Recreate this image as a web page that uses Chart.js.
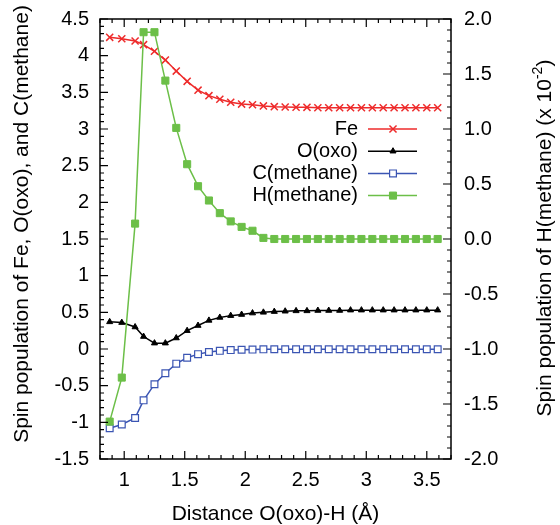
<!DOCTYPE html>
<html>
<head>
<meta charset="utf-8">
<script src="https://cdn.jsdelivr.net/npm/chart.js@4.4.0/dist/chart.umd.min.js"></script>
<style>
  html, body { margin: 0; padding: 0; background: #fff; }
  #wrap { width: 560px; height: 525px; }
</style>
</head>
<body>
<div id="wrap"><canvas id="spinChart" width="560" height="525"></canvas></div>
<script>
// O(oxo)-H distance (Å)
const distance = [0.88, 0.98, 1.09, 1.16, 1.25, 1.34, 1.43, 1.52, 1.61, 1.70,
  1.79, 1.88, 1.97, 2.06, 2.15, 2.24, 2.33, 2.42, 2.51, 2.60,
  2.69, 2.78, 2.87, 2.96, 3.05, 3.14, 3.23, 3.32, 3.41, 3.50, 3.59];

// spin populations, left axis
const fe = [4.25, 4.23, 4.20, 4.15, 4.06, 3.94, 3.79, 3.65, 3.53, 3.455,
  3.405, 3.365, 3.34, 3.33, 3.315, 3.305, 3.30, 3.297, 3.295, 3.29,
  3.29, 3.29, 3.29, 3.29, 3.29, 3.29, 3.29, 3.29, 3.29, 3.29, 3.29];
const oxo = [0.37, 0.36, 0.30, 0.17, 0.08, 0.08, 0.15, 0.25, 0.32, 0.39,
  0.43, 0.455, 0.47, 0.49, 0.50, 0.51, 0.515, 0.52, 0.52, 0.525,
  0.525, 0.525, 0.53, 0.53, 0.53, 0.53, 0.53, 0.53, 0.53, 0.53, 0.53];
const cMethane = [-1.08, -1.03, -0.94, -0.70, -0.48, -0.33, -0.20, -0.12, -0.07, -0.04,
  -0.025, -0.015, -0.01, -0.008, -0.005, -0.003, -0.003, -0.003, -0.003, -0.003,
  -0.003, -0.003, -0.003, -0.003, -0.003, -0.003, -0.003, -0.003, -0.003, -0.003, -0.003];

// spin population of H(methane), right axis (x 10^-2)
const hMethane = [-1.66, -1.26, 0.14, 1.88, 1.88, 1.44, 1.01, 0.68, 0.48, 0.35,
  0.235, 0.16, 0.11, 0.075, 0.01, 0.0, 0.0, 0.0, 0.0, 0.0,
  0.0, 0.0, 0.0, 0.0, 0.0, 0.0, 0.0, 0.0, 0.0, 0.0, 0.0];

// tick labels
const xTicks = [1, 1.5, 2, 2.5, 3, 3.5];
const yLeftTicks = [-1.5, -1, -0.5, 0, 0.5, 1, 1.5, 2, 2.5, 3, 3.5, 4, 4.5];
const yRightTicks = [-2, -1.5, -1, -0.5, 0, 0.5, 1, 1.5, 2];

const FONT = '"Liberation Sans", Arial, Helvetica, sans-serif';
Chart.defaults.font.family = FONT;
Chart.defaults.font.size = 20;
Chart.defaults.color = '#000';

function toPoints(ys) {
  return distance.map((x, i) => ({ x: x, y: ys[i] }));
}

function setTicks(list) {
  return (axis) => { axis.ticks = list.map(v => ({ value: v })); };
}

// draw one legend marker like the dataset's points
function drawMarker(ctx, ds, x, y) {
  const r = ds.pointRadius;
  ctx.save();
  ctx.strokeStyle = ds.borderColor;
  ctx.fillStyle = ds.pointBackgroundColor;
  ctx.lineWidth = ds.pointBorderWidth;
  ctx.beginPath();
  if (ds.pointStyle === 'crossRot') {
    const o = r * Math.SQRT1_2;
    ctx.moveTo(x - o, y - o); ctx.lineTo(x + o, y + o);
    ctx.moveTo(x - o, y + o); ctx.lineTo(x + o, y - o);
    ctx.stroke();
  } else if (ds.pointStyle === 'triangle') {
    ctx.moveTo(x, y - r);
    ctx.lineTo(x + r * 0.866, y + r * 0.5);
    ctx.lineTo(x - r * 0.866, y + r * 0.5);
    ctx.closePath();
    ctx.fill(); ctx.stroke();
  } else {
    const s = r * Math.SQRT1_2;
    ctx.rect(x - s, y - s, 2 * s, 2 * s);
    ctx.fill(); ctx.stroke();
  }
  ctx.restore();
}

const framePlugin = {
  id: 'frame',
  afterDraw(chart) {
    const { ctx, chartArea: a, scales } = chart;
    ctx.save();
    ctx.strokeStyle = '#000';
    ctx.lineWidth = 1.5;
    ctx.strokeRect(a.left, a.top, a.right - a.left, a.bottom - a.top);

    // inward major / minor ticks
    ctx.lineWidth = 1.2;
    ctx.beginPath();
    for (let k = 8; k <= 37; k++) {
      const px = scales.x.getPixelForValue(k / 10);
      const len = k % 5 === 0 ? 8 : 4;
      ctx.moveTo(px, a.bottom); ctx.lineTo(px, a.bottom - len);
      ctx.moveTo(px, a.top); ctx.lineTo(px, a.top + len);
    }
    for (let k = -15; k <= 45; k++) {
      const py = scales.y.getPixelForValue(k / 10);
      const len = k % 5 === 0 ? 8 : 4;
      ctx.moveTo(a.left, py); ctx.lineTo(a.left + len, py);
    }
    for (let k = -20; k <= 20; k++) {
      const py = scales.y2.getPixelForValue(k / 10);
      const len = k % 5 === 0 ? 8 : 4;
      ctx.moveTo(a.right, py); ctx.lineTo(a.right - len, py);
    }
    ctx.stroke();

    // vertical axis titles
    ctx.fillStyle = '#000';
    ctx.textBaseline = 'middle';
    ctx.font = '21px ' + FONT;
    ctx.save();
    ctx.translate(22, 224);
    ctx.rotate(-Math.PI / 2);
    ctx.textAlign = 'center';
    ctx.fillText('Spin population of Fe, O(oxo), and C(methane)', 0, 0);
    ctx.restore();

    const t1 = 'Spin population of H(methane) (x 10', t2 = '-2', t3 = ')';
    ctx.font = '21px ' + FONT;
    const w1 = ctx.measureText(t1).width, w3 = ctx.measureText(t3).width;
    ctx.font = '14px ' + FONT;
    const w2 = ctx.measureText(t2).width;
    ctx.save();
    ctx.translate(545, 238);
    ctx.rotate(-Math.PI / 2);
    ctx.textAlign = 'left';
    let sx = -(w1 + w2 + w3) / 2;
    ctx.font = '21px ' + FONT;
    ctx.fillText(t1, sx, 0);
    sx += w1;
    ctx.font = '14px ' + FONT;
    ctx.fillText(t2, sx, -7);
    sx += w2;
    ctx.font = '21px ' + FONT;
    ctx.fillText(t3, sx, 0);
    ctx.restore();

    // legend: label right-aligned, then line sample with marker
    ctx.font = '20px ' + FONT;
    ctx.textAlign = 'right';
    chart.data.datasets.forEach((ds, i) => {
      const y = a.top + 110 + i * 22.2;
      const tx = a.left + 258;
      ctx.fillStyle = '#000';
      ctx.fillText(ds.label, tx, y);
      ctx.strokeStyle = ds.borderColor;
      ctx.lineWidth = ds.borderWidth;
      ctx.beginPath();
      ctx.moveTo(tx + 10, y); ctx.lineTo(tx + 59, y);
      ctx.stroke();
      drawMarker(ctx, ds, tx + 35, y);
    });
    ctx.restore();
  }
};

new Chart(document.getElementById('spinChart'), {
  type: 'line',
  data: {
    datasets: [
      {
        label: 'Fe', data: toPoints(fe), yAxisID: 'y', order: 3,
        borderColor: '#ee2b2b', borderWidth: 1.5,
        pointStyle: 'crossRot', pointRadius: 5, pointBorderWidth: 1.5,
        pointBackgroundColor: '#ee2b2b'
      },
      {
        label: 'O(oxo)', data: toPoints(oxo), yAxisID: 'y', order: 2,
        borderColor: '#000000', borderWidth: 1.5,
        pointStyle: 'triangle', pointRadius: 3.5, pointBorderWidth: 1,
        pointBackgroundColor: '#000000'
      },
      {
        label: 'C(methane)', data: toPoints(cMethane), yAxisID: 'y', order: 1,
        borderColor: '#3b55b3', borderWidth: 1.5,
        pointStyle: 'rect', pointRadius: 4.8, pointBorderWidth: 1.2,
        pointBackgroundColor: '#ffffff'
      },
      {
        label: 'H(methane)', data: toPoints(hMethane), yAxisID: 'y2', order: 0,
        borderColor: '#6cbf48', borderWidth: 1.5,
        pointStyle: 'rect', pointRadius: 5, pointBorderWidth: 1,
        pointBackgroundColor: '#6cbf48'
      }
    ]
  },
  options: {
    responsive: false,
    animation: false,
    layout: { padding: { top: 19, left: 0, right: 0, bottom: 0 } },
    plugins: {
      legend: { display: false },
      tooltip: { enabled: false }
    },
    elements: { line: { tension: 0 } },
    scales: {
      x: {
        type: 'linear', min: 0.8, max: 3.7,
        grid: { display: false }, border: { display: false },
        afterBuildTicks: setTicks(xTicks),
        afterFit: (s) => { s.height = 66; },
        ticks: { padding: 1, font: { size: 20 }, callback: (v) => String(v) },
        title: {
          display: true, text: 'Distance O(oxo)-H (Å)',
          font: { size: 21, lineHeight: 1.0 }, padding: { top: 0, bottom: 0 }
        }
      },
      y: {
        type: 'linear', position: 'left', min: -1.5, max: 4.5,
        grid: { display: false }, border: { display: false },
        afterBuildTicks: setTicks(yLeftTicks),
        afterFit: (s) => { s.width = 100; },
        ticks: { padding: 3, font: { size: 20 }, callback: (v) => String(v) }
      },
      y2: {
        type: 'linear', position: 'right', min: -2, max: 2,
        grid: { display: false }, border: { display: false },
        afterBuildTicks: setTicks(yRightTicks),
        afterFit: (s) => { s.width = 109; },
        ticks: { padding: 5, font: { size: 20 }, callback: (v) => Number(v).toFixed(1) }
      }
    }
  },
  plugins: [framePlugin]
});
</script>
</body>
</html>
